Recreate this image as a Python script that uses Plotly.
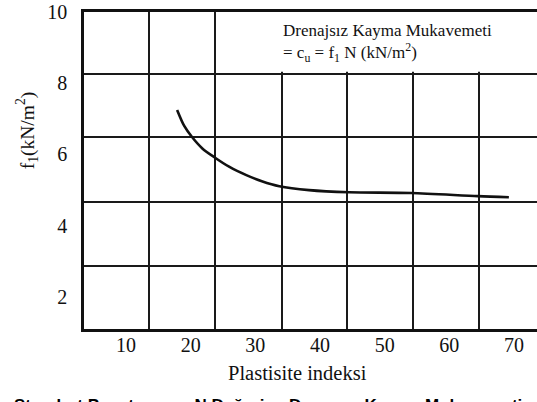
import plotly.graph_objects as go

# Data
plasticity_index = [17.9, 19.0, 20.2, 21.8, 23.6, 26.0, 28.6, 31.0, 33.7, 38.3, 44.5, 54.1, 64.4, 69.2]
f1_values = [7.25, 6.80, 6.49, 6.17, 5.93, 5.65, 5.42, 5.25, 5.11, 5.00, 4.94, 4.92, 4.83, 4.80]

x_tick_vals = [10, 20, 30, 40, 50, 60, 70]
y_tick_vals = [2, 4, 6, 8, 10]
x_grid_vals = [13.55, 23.76, 34.12, 44.17, 54.37, 64.58]
y_grid_vals = [2.87, 4.66, 6.49, 8.26]

x_range = [3.5, 73.55]
y_range = [1.10, 10.0]

SERIF = "Liberation Serif"

fig = go.Figure()
fig.add_trace(go.Scatter(
    x=plasticity_index, y=f1_values, mode="lines",
    line=dict(color="#111111", width=2.6, shape="spline", smoothing=0.8),
    showlegend=False, hoverinfo="skip",
))

fig.update_xaxes(
    range=x_range, tickmode="array", tickvals=x_tick_vals,
    showgrid=False, zeroline=False,
    showline=True, linecolor="#111111", linewidth=2.5, mirror=True,
    ticks="", ticklabelstandoff=-4,
    tickfont=dict(family=SERIF, size=20, color="#111111"),
    minor=dict(tickmode="array", tickvals=x_grid_vals, showgrid=True,
               gridcolor="#1a1a1a", gridwidth=2.2, ticks=""),
)
fig.update_yaxes(
    range=y_range, tickmode="array", tickvals=y_tick_vals,
    showgrid=False, zeroline=False,
    showline=True, linecolor="#111111", linewidth=2.5, mirror=False,
    ticks="", ticklabelstandoff=10,
    tickfont=dict(family=SERIF, size=20, color="#111111"),
    minor=dict(tickmode="array", tickvals=y_grid_vals, showgrid=True,
               gridcolor="#1a1a1a", gridwidth=2.2, ticks=""),
)

# White box hiding the grid in the top-right cell row
fig.add_shape(type="rect", xref="x", yref="y",
              x0=x_grid_vals[2] - 0.25, x1=x_range[1], y0=y_grid_vals[3] + 0.06, y1=y_range[1],
              fillcolor="white", line=dict(width=0), layer="between")

fig.add_annotation(
    xref="paper", yref="paper", x=0.435, y=0.978, xanchor="left", yanchor="top",
    text="Drenajsız Kayma Mukavemeti<br>= c<sub>u</sub> = f<sub>1</sub> N (kN/m<sup>2</sup>)",
    align="left", showarrow=False, font=dict(family=SERIF, size=17, color="#111111"),
)
fig.add_annotation(
    xref="paper", yref="paper", x=-0.125, y=0.628, xanchor="center", yanchor="middle",
    text="f<sub>1</sub>(kN/m<sup>2</sup>)", textangle=-90, showarrow=False,
    font=dict(family=SERIF, size=19.5, color="#111111"),
)
fig.add_annotation(
    xref="paper", yref="paper", x=0.472, y=-0.139, xanchor="center", yanchor="middle",
    text="Plastisite indeksi", showarrow=False,
    font=dict(family=SERIF, size=20.5, color="#111111"),
)
fig.add_annotation(
    xref="paper", yref="paper", x=-0.159, y=-0.205, xanchor="left", yanchor="top",
    text="<b>Standart Penetrasyon N Değerine Dayanan Kayma Mukavemeti</b>", showarrow=False,
    font=dict(family="Liberation Sans, Arial, sans-serif", size=17, color="#000000"),
)

fig.update_layout(
    width=537, height=402,
    margin=dict(l=84, r=0, t=12, b=73),
    paper_bgcolor="white", plot_bgcolor="white",
)

fig.write_html("out.html")
